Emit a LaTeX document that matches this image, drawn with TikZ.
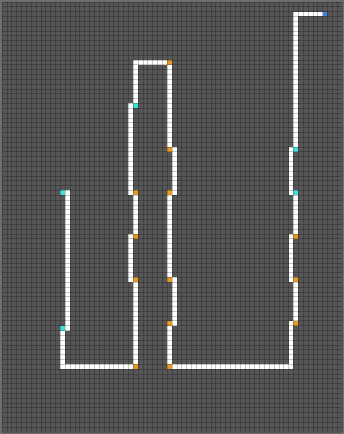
\documentclass[tikz,border=0pt]{standalone}
\definecolor{bgc}{HTML}{565656}
\definecolor{edgec}{HTML}{6E6E6E}
\definecolor{pathc}{HTML}{FFFFFF}
\definecolor{cyanc}{HTML}{40E0D6}
\definecolor{orangec}{HTML}{E39B26}
\definecolor{bluec}{HTML}{3F7FE0}
\tikzset{
  walk/.style={fill=pathc},
  mcyan/.style={fill=cyanc},
  morange/.style={fill=orangec},
  mblue/.style={fill=bluec},
  gridline/.style={draw=black,draw opacity=0.22,line width=0.7pt}
}
% vertical run of cells: column, first row, last row
\newcommand{\vrun}[3]{\fill[walk] (#1,#2) rectangle (#1+1,#3+1);}
% horizontal run: row, first col, last col
\newcommand{\hrun}[3]{\fill[walk] (#2,#1) rectangle (#3+1,#1+1);}
\newcommand{\cellmark}[3]{\fill[#1] (#2,#3) rectangle (#2+1,#3+1);}
\begin{document}
\begin{tikzpicture}[x=1pt,y=-1pt]
\useasboundingbox (0,0) rectangle (344,434);
\fill[edgec] (0,0) rectangle (344,434);
\begin{scope}[shift={(2pt,-2pt)},x=4.857pt,y=-4.831pt]
\fill[bgc] (0,0) rectangle (70,89);
% left part
\vrun{13}{39}{67}
\vrun{12}{68}{75}
\hrun{75}{12}{26}
\vrun{27}{58}{74}
\vrun{26}{48}{57}
\vrun{27}{40}{47}
\vrun{26}{21}{39}
\vrun{27}{12}{20}
\hrun{12}{27}{33}
% middle column
\vrun{34}{13}{29}
\vrun{35}{30}{39}
\vrun{34}{40}{56}
\vrun{35}{57}{66}
\vrun{34}{67}{74}
\hrun{75}{35}{59}
% right part
\vrun{59}{66}{74}
\vrun{60}{58}{65}
\vrun{59}{48}{57}
\vrun{60}{40}{47}
\vrun{59}{30}{39}
\vrun{60}{2}{29}
\hrun{2}{61}{65}
% markers
\cellmark{mcyan}{12}{39}
\cellmark{mcyan}{12}{67}
\cellmark{morange}{27}{75}
\cellmark{morange}{27}{57}
\cellmark{morange}{27}{48}
\cellmark{morange}{27}{39}
\cellmark{mcyan}{27}{21}
\cellmark{morange}{34}{12}
\cellmark{morange}{34}{30}
\cellmark{morange}{34}{39}
\cellmark{morange}{34}{57}
\cellmark{morange}{34}{66}
\cellmark{morange}{34}{75}
\cellmark{morange}{60}{66}
\cellmark{morange}{60}{57}
\cellmark{morange}{60}{48}
\cellmark{mcyan}{60}{39}
\cellmark{mcyan}{60}{30}
\cellmark{mblue}{66}{2}
\foreach \i in {0,...,70} \draw[gridline] (\i,0) -- (\i,89);
\foreach \j in {0,...,89} \draw[gridline] (0,\j) -- (70,\j);
\end{scope}
\end{tikzpicture}
\end{document}
